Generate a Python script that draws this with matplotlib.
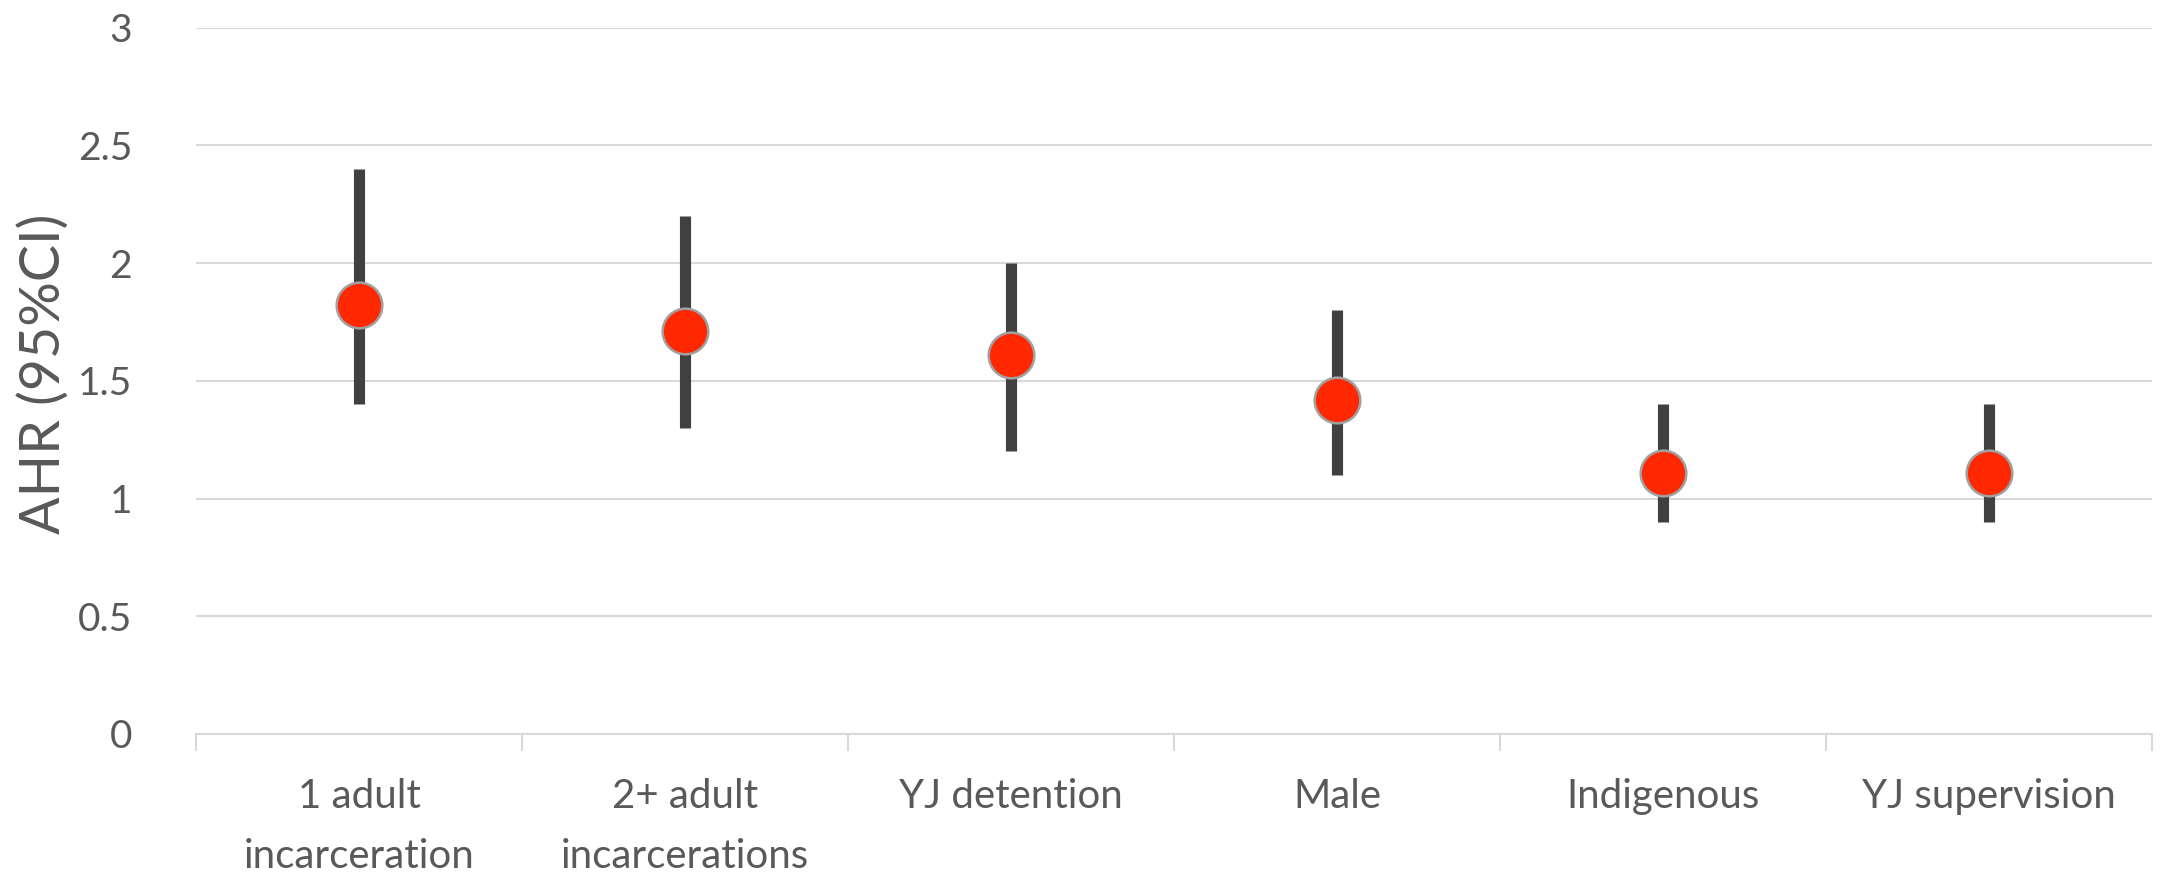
import matplotlib
matplotlib.use("Agg")
import matplotlib.pyplot as plt
import numpy as np

categories = ["1 adult\nincarceration", "2+ adult\nincarcerations", "YJ detention",
              "Male", "Indigenous", "YJ supervision"]
ahr = [1.82, 1.71, 1.61, 1.42, 1.11, 1.11]
ci_low = [1.40, 1.30, 1.20, 1.10, 0.90, 0.90]
ci_high = [2.40, 2.20, 2.00, 1.80, 1.40, 1.40]
y_ticks = [0, 0.5, 1, 1.5, 2, 2.5, 3]
y_tick_labels = ["0", "0.5", "1", "1.5", "2", "2.5", "3"]

plt.rcParams["font.family"] = ["Lato", "DejaVu Sans"]
text_color = "#595959"
grid_color = "#D9D9D9"

fig = plt.figure(figsize=(21.6, 8.75), dpi=100)
ax = fig.add_axes([196 / 2160, 1 - 734 / 875, (2152 - 196) / 2160, (734 - 27.5) / 875])

x = np.arange(len(categories))
ax.vlines(x, ci_low, ci_high, color="#404040", linewidth=8, zorder=3)
ax.scatter(x, ahr, s=1080, color="#FF2800", edgecolors="#A0A0A0", linewidths=1.8, zorder=4)

ax.set_xlim(-0.5, len(categories) - 0.5)
ax.set_ylim(0, 3)
ax.set_yticks(y_ticks)
ax.set_yticklabels(y_tick_labels)
ax.yaxis.grid(True, color=grid_color, linewidth=1.5)
ax.set_axisbelow(True)

for side in ["top", "right", "left"]:
    ax.spines[side].set_visible(False)
ax.spines["bottom"].set_color(grid_color)
ax.spines["bottom"].set_linewidth(1.5)

ax.tick_params(axis="y", length=0, labelsize=28, labelcolor=text_color, pad=46)
ax.set_xticks(x)
ax.set_xticklabels(categories, fontsize=29, color=text_color, linespacing=1.75)
ax.tick_params(axis="x", which="major", length=0, pad=32)
ax.set_xticks(np.arange(-0.5, len(categories)), minor=True)
ax.tick_params(axis="x", which="minor", length=12, width=1.5, color=grid_color)

fig.text(44 / 2160, 1 - 374 / 875, "AHR (95%CI)", rotation=90, fontsize=40,
         color=text_color, ha="center", va="center")

fig.savefig("out.png", dpi=100, facecolor="white")
